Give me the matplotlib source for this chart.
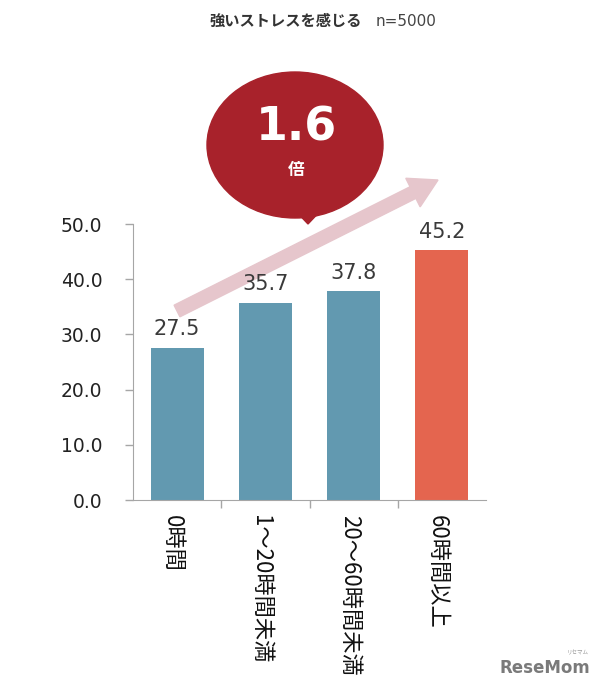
import matplotlib
matplotlib.use("Agg")
import matplotlib.pyplot as plt
from matplotlib.patches import Ellipse, Polygon, FancyArrow

plt.rcParams['font.family'] = ['Noto Sans CJK JP', 'DejaVu Sans']

categories = ['0時間', '1～20時間未満', '20～60時間未満', '60時間以上']
values = [27.5, 35.7, 37.8, 45.2]
bar_colors = ['#6299b0', '#6299b0', '#6299b0', '#e4654f']
yticks = [0, 10, 20, 30, 40, 50]
title_main = '強いストレスを感じる'
title_n = 'n=5000'
ratio_text = '1.6'
ratio_unit = '倍'

W, H = 609, 692
fig = plt.figure(figsize=(W / 100, H / 100), dpi=100)


def fx(px):
    return px / W


def fy(py):
    return 1 - py / H


ax = fig.add_axes([fx(133), fy(500), fx(486) - fx(133), fy(224) - fy(500)])
ax.patch.set_visible(False)
x = range(len(values))
ax.bar(x, values, width=0.6, color=bar_colors, zorder=2)
ax.set_xlim(-0.5, len(values) - 0.5)
ax.set_ylim(0, 50)
ax.set_yticks(yticks)
ax.set_yticklabels([f'{v:.1f}' for v in yticks], family='DejaVu Sans', fontsize=13.5)
ax.set_xticks([i + 0.5 for i in range(len(values) - 1)])
ax.set_xticklabels([])
for s in ['top', 'right']:
    ax.spines[s].set_visible(False)
for s in ['left', 'bottom']:
    ax.spines[s].set_color('#a6a6a6')
ax.tick_params(axis='both', colors='#a6a6a6', length=6, width=1,
               labelcolor='#222222', pad=16)

for i, v in enumerate(values):
    ax.text(i, v + 1.6, f'{v:.1f}', ha='center', va='bottom',
            family='DejaVu Sans', fontsize=15, color='#3a3a3a')
    ax.text(i - 0.05, -2.8, categories[i], rotation=-90, ha='center', va='top',
            fontsize=16, color='#111111')

# title
fig.text(fx(362), fy(21), title_main, ha='right', va='center',
         fontsize=11, fontweight='bold', color='#333333')
fig.text(fx(376), fy(21), title_n, ha='left', va='center',
         family='DejaVu Sans', fontsize=11, color='#444444')

# trend arrow (figure pixel coordinates), behind the axes texts
sx, sy = 177, H - 311
ex, ey = 438, H - 180
arrow = FancyArrow(sx, sy, ex - sx, ey - sy, width=13, head_width=32,
                   head_length=28, length_includes_head=True,
                   color='#e6c6cc', transform=None, zorder=-1)
fig.patches.append(arrow)

# speech bubble
bubble_color = '#a8222b'
fig.patches.append(Ellipse((295, H - 145), 176, 146, color=bubble_color,
                           transform=None, zorder=6))
fig.patches.append(Polygon([(290, H - 205), (326, H - 205), (308, H - 224)],
                           closed=True, color=bubble_color, transform=None, zorder=6))
fig.text(fx(296), fy(128), ratio_text, ha='center', va='center', color='white',
         family='DejaVu Sans', fontsize=33, fontweight='bold', zorder=7)
fig.text(fx(296), fy(170), ratio_unit, ha='center', va='center', color='white',
         fontsize=12, fontweight='bold', zorder=7)

# logo
fig.text(fx(545), fy(668), 'ReseMom', ha='center', va='center', color='#7a7a7a',
         family='DejaVu Sans', fontsize=12, fontweight='bold')
fig.text(fx(578), fy(653), 'リセマム', ha='center', va='center', color='#9a9a9a',
         fontsize=4)

plt.savefig('out.png', dpi=100)
